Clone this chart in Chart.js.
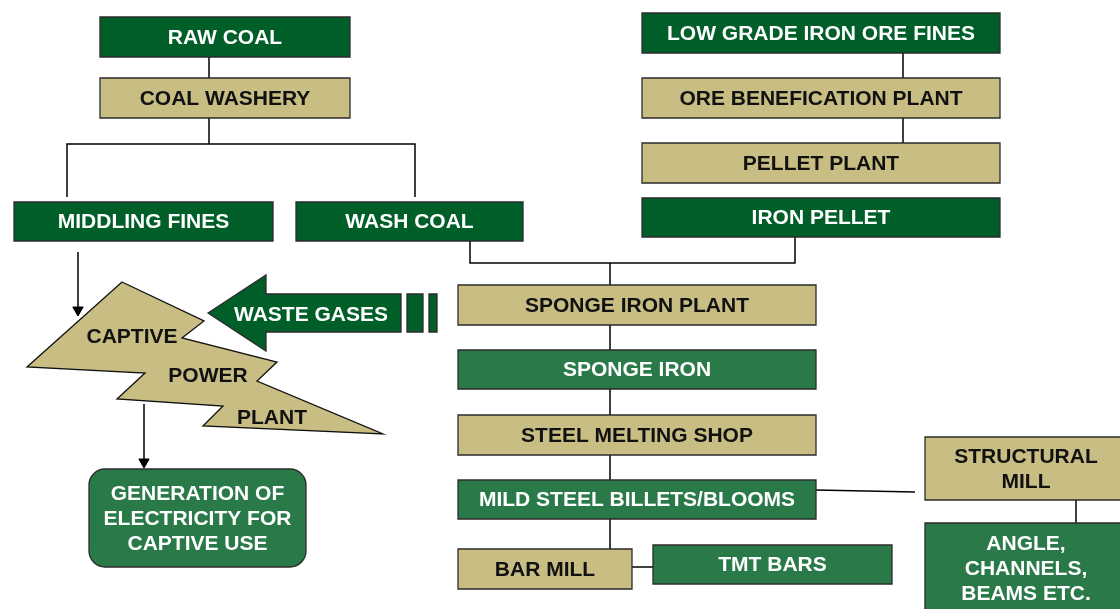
<!DOCTYPE html>
<html>
<head>
<meta charset="utf-8">
<script src="https://cdn.jsdelivr.net/npm/chart.js@4.4.0/dist/chart.umd.min.js"></script>
<style>
  html, body { margin: 0; padding: 0; background: #fff; }
  #wrap { width: 1120px; height: 609px; }
</style>
</head>
<body>
<div id="wrap"><canvas id="flow" width="1120" height="609"></canvas></div>
<script>
// diagram units: x 0..1120, y 0..609 (top to bottom)

// process boxes
const boxLabels = [
  'RAW COAL', 'COAL WASHERY', 'MIDDLING FINES', 'WASH COAL',
  'LOW GRADE IRON ORE FINES', 'ORE BENEFICATION PLANT', 'PELLET PLANT', 'IRON PELLET',
  'SPONGE IRON PLANT', 'SPONGE IRON', 'STEEL MELTING SHOP', 'MILD STEEL BILLETS/BLOOMS',
  'BAR MILL', 'TMT BARS', 'STRUCTURAL\nMILL', 'ANGLE,\nCHANNELS,\nBEAMS ETC.',
  'GENERATION OF\nELECTRICITY FOR\nCAPTIVE USE'
];
const boxLeft   = [100, 100, 14, 296, 642, 642, 642, 642, 458, 458, 458, 458, 458, 653, 925, 925, 89];
const boxTop    = [17, 78, 202, 202, 13, 78, 143, 198, 285, 350, 415, 480, 549, 545, 437, 523, 469];
const boxRight  = [350, 350, 273, 523, 1000, 1000, 1000, 1000, 816, 816, 816, 816, 632, 892, 1127, 1127, 306];
const boxBottom = [57, 118, 241, 241, 53, 118, 183, 237, 325, 389, 455, 519, 589, 584, 500, 640, 567];
const boxKind   = ['dark', 'tan', 'dark', 'dark', 'dark', 'tan', 'tan', 'dark',
                   'tan', 'mid', 'tan', 'mid', 'tan', 'mid', 'tan', 'mid', 'round'];

// connector lines (polylines)
const connectors = [
  [[209, 57], [209, 78]],
  [[209, 118], [209, 144]],
  [[67, 197], [67, 144], [415, 144], [415, 197]],
  [[470, 241], [470, 263], [795, 263], [795, 237]],
  [[610, 263], [610, 285]],
  [[903, 53], [903, 78]],
  [[903, 118], [903, 143]],
  [[610, 325], [610, 350]],
  [[610, 389], [610, 415]],
  [[610, 455], [610, 480]],
  [[610, 519], [610, 549]],
  [[632, 567], [653, 567]],
  [[816, 490], [915, 492]],
  [[1076, 500], [1076, 523]]
];
// arrows: start point, tip point
const arrows = [
  [[78, 252], [78, 316]],
  [[144, 404], [144, 468]]
];

// captive power plant bolt
const boltX = [122, 204, 182, 277, 257, 383, 203, 223, 117, 145, 27];
const boltY = [282, 321, 338, 362, 381, 434, 426, 406, 399, 373, 367];
const boltLabels = ['CAPTIVE', 'POWER', 'PLANT'];
const boltLabelX = [132, 208, 272];
const boltLabelY = [337, 376, 418];

// waste gases arrow
const gasArrowX = [208, 266, 266, 401, 401, 266, 266];
const gasArrowY = [313, 275, 294, 294, 332, 332, 351];
const gasBarLeft = [407, 429];
const gasBarRight = [423, 437];
const gasLabel = 'WASTE GASES';

const colors = {
  dark: '#005f29',
  mid: '#2a7a49',
  round: '#2a7a49',
  tan: '#c8bd82',
  outline: '#2b2b2b'
};
const FONT = 'bold 21px "Liberation Sans", Arial, sans-serif';

const datasets = [];
connectors.forEach(path => {
  datasets.push({
    data: path.map(p => ({ x: p[0], y: p[1] })),
    showLine: true, borderColor: '#000', borderWidth: 1.5, pointRadius: 0
  });
});
arrows.forEach(a => {
  datasets.push({
    data: [{ x: a[0][0], y: a[0][1] }, { x: a[1][0], y: a[1][1] - 6 }],
    showLine: true, borderColor: '#000', borderWidth: 1.5, pointRadius: 0
  });
  datasets.push({
    data: [{ x: a[1][0], y: a[1][1] - 6 }],
    pointStyle: 'triangle', pointRotation: 180, pointRadius: 6,
    backgroundColor: '#000', borderColor: '#000', borderWidth: 1
  });
});

function polygon(ctx, xs, ys, sx, sy) {
  ctx.beginPath();
  xs.forEach((x, i) => {
    const px = sx.getPixelForValue(x), py = sy.getPixelForValue(ys[i]);
    if (i === 0) ctx.moveTo(px, py); else ctx.lineTo(px, py);
  });
  ctx.closePath();
}

function roundRect(ctx, x, y, w, h, r) {
  ctx.beginPath();
  ctx.moveTo(x + r, y);
  ctx.arcTo(x + w, y, x + w, y + h, r);
  ctx.arcTo(x + w, y + h, x, y + h, r);
  ctx.arcTo(x, y + h, x, y, r);
  ctx.arcTo(x, y, x + w, y, r);
  ctx.closePath();
}

const shapesPlugin = {
  id: 'flowShapes',
  afterDatasetsDraw(chart) {
    const ctx = chart.ctx;
    const sx = chart.scales.x, sy = chart.scales.y;
    ctx.save();

    // boxes
    boxLabels.forEach((label, i) => {
      const x0 = sx.getPixelForValue(boxLeft[i]), x1 = sx.getPixelForValue(boxRight[i]);
      const y0 = sy.getPixelForValue(boxTop[i]), y1 = sy.getPixelForValue(boxBottom[i]);
      const kind = boxKind[i];
      ctx.fillStyle = colors[kind];
      ctx.strokeStyle = colors.outline;
      ctx.lineWidth = 1.3;
      if (kind === 'round') {
        roundRect(ctx, x0, y0, x1 - x0, y1 - y0, 16);
      } else {
        ctx.beginPath();
        ctx.rect(x0, y0, x1 - x0, y1 - y0);
      }
      ctx.fill();
      ctx.stroke();

      ctx.fillStyle = kind === 'tan' ? '#111' : '#fff';
      ctx.font = FONT;
      ctx.textAlign = 'center';
      ctx.textBaseline = 'middle';
      const lines = label.split('\n');
      const lh = 25;
      const cx = (x0 + x1) / 2;
      const cy = (y0 + y1) / 2 + 1;
      const top = Math.min(cy - (lines.length - 1) * lh / 2, cy);
      lines.forEach((ln, k) => {
        let yy = top + k * lh;
        if (boxRight[i] > 1120 && kind === 'mid') yy = sy.getPixelForValue(544) + k * lh;
        if (boxRight[i] > 1120 && kind === 'tan') yy = sy.getPixelForValue(457) + k * lh;
        ctx.fillText(ln, cx, yy, (x1 - x0) - 14);
      });
    });

    // captive power plant bolt
    polygon(ctx, boltX, boltY, sx, sy);
    ctx.fillStyle = colors.tan;
    ctx.fill();
    ctx.strokeStyle = '#111';
    ctx.lineWidth = 1.3;
    ctx.stroke();
    ctx.fillStyle = '#111';
    ctx.font = FONT;
    boltLabels.forEach((t, i) => {
      ctx.fillText(t, sx.getPixelForValue(boltLabelX[i]), sy.getPixelForValue(boltLabelY[i]));
    });

    // waste gases arrow
    polygon(ctx, gasArrowX, gasArrowY, sx, sy);
    ctx.fillStyle = colors.dark;
    ctx.fill();
    ctx.strokeStyle = colors.outline;
    ctx.stroke();
    gasBarLeft.forEach((l, i) => {
      const x0 = sx.getPixelForValue(l), x1 = sx.getPixelForValue(gasBarRight[i]);
      const y0 = sy.getPixelForValue(294), y1 = sy.getPixelForValue(332);
      ctx.beginPath();
      ctx.rect(x0, y0, x1 - x0, y1 - y0);
      ctx.fillStyle = colors.dark;
      ctx.fill();
      ctx.stroke();
    });
    ctx.fillStyle = '#fff';
    ctx.fillText(gasLabel, sx.getPixelForValue(311), sy.getPixelForValue(315));

    ctx.restore();
  }
};

new Chart(document.getElementById('flow'), {
  type: 'scatter',
  data: { datasets },
  options: {
    responsive: false,
    animation: false,
    events: [],
    layout: { padding: 0, autoPadding: false },
    plugins: { legend: { display: false }, tooltip: { enabled: false } },
    scales: {
      x: { type: 'linear', min: 0, max: 1120, display: false },
      y: { type: 'linear', min: 0, max: 609, reverse: true, display: false }
    }
  },
  plugins: [shapesPlugin]
});
</script>
</body>
</html>
